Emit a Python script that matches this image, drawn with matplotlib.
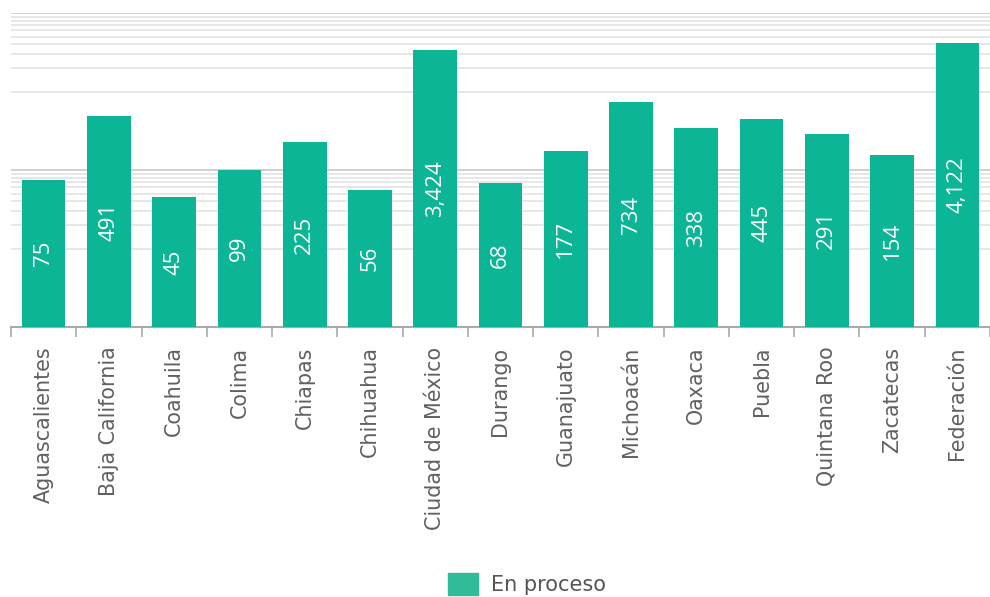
import numpy as np
import matplotlib.pyplot as plt
from matplotlib.patches import Patch

estados = ['Aguascalientes', 'Baja California', 'Coahuila', 'Colima', 'Chiapas',
           'Chihuahua', 'Ciudad de México', 'Durango', 'Guanajuato', 'Michoacán',
           'Oaxaca', 'Puebla', 'Quintana Roo', 'Zacatecas', 'Federación']
en_proceso = [75, 491, 45, 99, 225, 56, 3424, 68, 177, 734, 338, 445, 291, 154, 4122]

bar_color = '#0bb596'
legend_color = '#30bc98'
text_grey = '#606060'

fig = plt.figure(figsize=(9.9, 5.97), dpi=100)
ax = fig.add_axes([11/990, 1 - 327/597, 979/990, (327 - 13)/597])

x = np.arange(len(estados))
ax.bar(x, en_proceso, width=0.67, color=bar_color, zorder=3)
ax.set_yscale('log')
ax.set_ylim(1, 10000)
ax.set_xlim(-0.5, len(estados) - 0.5)

# rejilla: mayores en 100 y 10000, menores en 10..90 y 1000..9000
for v in [100, 10000]:
    ax.axhline(v, color='#c8c8c8', lw=1.2, zorder=1)
for v in list(range(10, 100, 10)) + list(range(1000, 10000, 1000)):
    ax.axhline(v, color='#e3e3e3', lw=1.2, zorder=1)

for xi, v in zip(x, en_proceso):
    ax.text(xi, np.sqrt(v), f'{v:,}', rotation=90, ha='center', va='center',
            color='white', fontsize=16, family='Open Sans', zorder=4)

for s in ['top', 'right', 'left']:
    ax.spines[s].set_visible(False)
ax.spines['bottom'].set_color('#aaaaaa')
ax.spines['bottom'].set_linewidth(1.5)
ax.minorticks_off()
ax.tick_params(axis='y', which='both', left=False, labelleft=False)
ax.set_xticks(x)
ax.set_xticklabels(estados, rotation=90, fontsize=14.9, color=text_grey,
                   family='DejaVu Sans')
ax.tick_params(axis='x', which='major', length=0, pad=14)
ax.set_xticks(np.arange(len(estados) + 1) - 0.5, minor=True)
ax.tick_params(axis='x', which='minor', length=7, width=1.2, color='#aaaaaa')

leg = fig.legend(handles=[Patch(color=legend_color, label='En proceso')],
                 loc='center', bbox_to_anchor=(527/990, 1 - 584/597), frameon=False,
                 handlelength=1.45, handleheight=1.3, handletextpad=0.65,
                 prop={'family': 'DejaVu Sans', 'size': 15})
for t in leg.get_texts():
    t.set_color('#555555')

fig.savefig('out.png', dpi=100)
